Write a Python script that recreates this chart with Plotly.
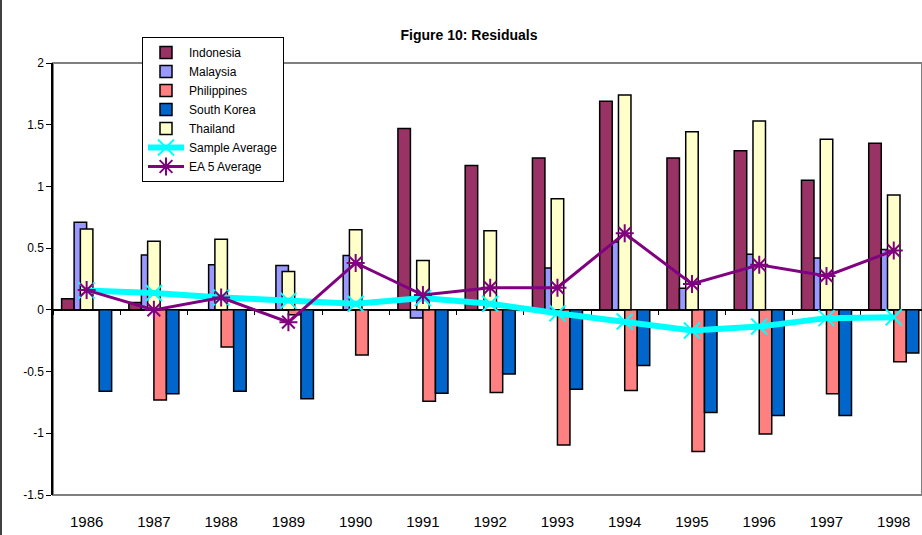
import plotly.graph_objects as go

# Residuals by country, 1986-1998
years = ["1986", "1987", "1988", "1989", "1990", "1991", "1992",
         "1993", "1994", "1995", "1996", "1997", "1998"]

indonesia = [0.09, 0.06, 0.0, 0.0, 0.0, 1.47, 1.17, 1.23, 1.69, 1.23, 1.29, 1.05, 1.35]
malaysia = [0.71, 0.445, 0.365, 0.36, 0.44, -0.065, 0.0, 0.34, 0.55, 0.175, 0.45, 0.42, 0.49]
philippines = [0.0, -0.73, -0.30, -0.04, -0.365, -0.74, -0.67, -1.094, -0.654, -1.148, -1.005, -0.68, -0.42]
south_korea = [-0.66, -0.68, -0.66, -0.72, 0.0, -0.675, -0.52, -0.643, -0.45, -0.832, -0.856, -0.856, -0.35]
thailand = [0.655, 0.555, 0.573, 0.31, 0.65, 0.40, 0.64, 0.90, 1.74, 1.442, 1.53, 1.383, 0.93]
sample_average = [0.157, 0.137, 0.10, 0.075, 0.05, 0.095, 0.05, -0.027, -0.095, -0.167, -0.135, -0.067, -0.06]
ea5_average = [0.16, 0.0, 0.10, -0.10, 0.38, 0.12, 0.18, 0.18, 0.62, 0.21, 0.365, 0.275, 0.48]

y_ticks = [2, 1.5, 1, 0.5, 0, -0.5, -1, -1.5]
y_tick_text = ["2", "1.5", "1", "0.5", "0", "-0.5", "-1", "-1.5"]

FONT = "Arial, Liberation Sans, sans-serif"
BAR_W = 0.186
X_RANGE = [-0.5, 12.42]
Y_RANGE = [-1.5, 2]

fig = go.Figure()

# Four clustered bars per year, plus Thailand centred over the cluster
bar_series = [
    ("Indonesia", indonesia, "#993366", -2 * BAR_W),
    ("Malaysia", malaysia, "#9999FF", -1 * BAR_W),
    ("Philippines", philippines, "#FF8080", 0.0),
    ("South Korea", south_korea, "#0066CC", 1 * BAR_W),
    ("Thailand", thailand, "#FFFFCC", -0.5 * BAR_W),
]
for name, vals, color, off in bar_series:
    fig.add_trace(go.Bar(
        x=years, y=vals, name=name,
        width=BAR_W, offset=off,
        marker=dict(color=color, line=dict(color="black", width=1.5)),
    ))

fig.add_trace(go.Scatter(
    x=years, y=sample_average, name="Sample Average", mode="lines+markers",
    line=dict(color="#00FFFF", width=6),
    marker=dict(symbol="x-thin-open", size=16, color="#00FFFF",
                line=dict(color="#00FFFF", width=2)),
))
fig.add_trace(go.Scatter(
    x=years, y=ea5_average, name="EA 5 Average", mode="lines+markers",
    line=dict(color="#800080", width=3),
    marker=dict(symbol="asterisk-open", size=15, color="#800080",
                line=dict(color="#800080", width=2)),
))

# helper trace so the axis drawn through zero is rendered
fig.add_trace(go.Scatter(
    x=years, y=[None] * len(years), xaxis="x2", showlegend=False,
    hoverinfo="skip", mode="markers",
))

zero_pos = (0 - Y_RANGE[0]) / (Y_RANGE[1] - Y_RANGE[0])

fig.update_layout(
    width=922, height=535,
    margin=dict(l=53, r=0, t=63, b=40),
    paper_bgcolor="white", plot_bgcolor="white",
    barmode="overlay",
    font=dict(family=FONT, color="black"),
    title=dict(text="<b>Figure 10: Residuals</b>", x=469 / 922, xanchor="center",
               xref="container", y=1 - 35 / 535, yanchor="middle",
               font=dict(size=14, family=FONT, color="black")),
    showlegend=True,
    legend=dict(
        x=(142 - 53) / 869, y=(495 - 37) / 432, xanchor="left", yanchor="top",
        bgcolor="white", bordercolor="black", borderwidth=1,
        font=dict(size=12, family=FONT), itemwidth=36,
        tracegroupgap=0,
    ),
    xaxis=dict(
        type="category", categoryorder="array", categoryarray=years,
        range=X_RANGE, showline=False, showgrid=False, zeroline=False,
        ticks="", tickfont=dict(size=15, family=FONT),
        ticklabelstandoff=16, fixedrange=True,
    ),
    xaxis2=dict(
        type="category", categoryorder="array", categoryarray=years,
        range=X_RANGE, overlaying="x", anchor="free", position=zero_pos,
        showline=True, linecolor="black", linewidth=2,
        ticks="outside", ticklen=4, tickcolor="black", tickwidth=1,
        tickson="boundaries", showticklabels=False, showgrid=False,
        zeroline=False, layer="below traces",
    ),
    yaxis=dict(
        range=Y_RANGE, tickvals=y_ticks, ticktext=y_tick_text,
        showline=True, linecolor="black", linewidth=1.5,
        ticks="outside", ticklen=5, tickcolor="black",
        showgrid=False, zeroline=False, tickfont=dict(size=12, family=FONT),
    ),
    shapes=[
        # plot-area frame
        dict(type="rect", xref="paper", yref="paper", x0=0, x1=1, y0=0, y1=1,
             line=dict(color="#808080", width=2), layer="below"),
        # chart-area edge on the left
        dict(type="line", xref="paper", yref="paper",
             x0=(1 - 53) / 869, x1=(1 - 53) / 869, y0=-40 / 432, y1=495 / 432,
             line=dict(color="black", width=1.5)),
    ],
)

fig.write_html("out.html")
